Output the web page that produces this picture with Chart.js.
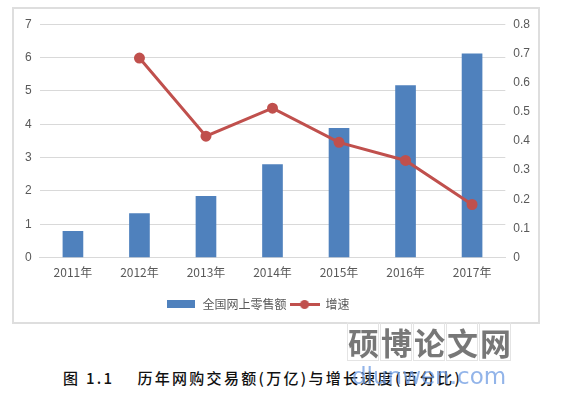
<!DOCTYPE html>
<html>
<head>
<meta charset="utf-8">
<script src="https://cdn.jsdelivr.net/npm/chart.js@4"></script>
<style>
  body { margin: 0; background: #fff; width: 561px; height: 394px; position: relative; overflow: hidden; font-family: "Noto Sans CJK SC", sans-serif; }
  .box { position: absolute; left: 12px; top: 7px; width: 524px; height: 313px; border: 2px solid #dedede; }
  .caption { position: absolute; left: 63px; top: 367px; font-size: 15px; color: #111; letter-spacing: 2.3px; font-weight: 500; white-space: nowrap; }
  .wm { position: absolute; left: 347px; top: 322px; display: flex; }
  .wm span { display: block; width: 30px; height: 37px; border: 1px solid #e4e4e4; margin-right: 1px; font-size: 31px; font-weight: 700; line-height: 37px; text-align: center; color: rgba(95,95,95,0.85); }
  .wm2 { position: absolute; left: 352px; top: 363px; font-size: 23px; color: rgba(110,155,225,0.75); font-family: "DejaVu Sans", sans-serif; }
</style>
</head>
<body>
<div class="box"><canvas id="c"></canvas></div>
<div class="caption">图 1.1　 历年网购交易额(万亿)与增长速度(百分比)</div>
<div class="wm"><span>硕</span><span>博</span><span>论</span><span>文</span><span>网</span></div>
<div class="wm2">dlunwen.com</div>
<script>
const years = ['2011年', '2012年', '2013年', '2014年', '2015年', '2016年', '2017年'];
const sales = [0.79, 1.32, 1.84, 2.79, 3.88, 5.16, 6.11];
const growth = [null, 0.684, 0.416, 0.512, 0.395, 0.333, 0.182];

// legend markers: blue block, red line with a dot, and an empty spacer
const barMark = document.createElement('canvas');
barMark.width = 28; barMark.height = 8;
let g = barMark.getContext('2d');
g.fillStyle = '#4f81bd'; g.fillRect(0, 0, 28, 8);

const lineMark = document.createElement('canvas');
lineMark.width = 30; lineMark.height = 10;
g = lineMark.getContext('2d');
g.fillStyle = '#c0504d';
g.fillRect(0, 4, 30, 3);
g.beginPath(); g.arc(15, 5.5, 4.5, 0, Math.PI * 2); g.fill();

const blankMark = document.createElement('canvas');
blankMark.width = 1; blankMark.height = 1;

const ctx = document.getElementById('c');
const chart = new Chart(ctx, {
    type: 'bar',
    data: {
        labels: years,
        datasets: [
            { label: '全国网上零售额', data: sales, backgroundColor: '#4f81bd', barThickness: 20, yAxisID: 'y', order: 2 },
            { type: 'line', label: '增速', data: growth, borderColor: '#c0504d', backgroundColor: '#c0504d',
              borderWidth: 3, pointRadius: 4, pointHoverRadius: 4, tension: 0, yAxisID: 'y1', order: 1 }
        ]
    },
    options: {
        responsive: true,
        maintainAspectRatio: false,
        animation: false,
        layout: { padding: { left: 3, right: 0, top: 9, bottom: 2 } },
        plugins: {
            legend: {
                position: 'bottom',
                labels: {
                    color: '#595959', font: { size: 12, family: 'Noto Sans CJK SC' },
                    usePointStyle: true, pointStyleWidth: 30, padding: 3,
                    generateLabels: (chart) => {
                        const items = Chart.defaults.plugins.legend.labels.generateLabels(chart);
                        items.sort((a, b) => a.datasetIndex - b.datasetIndex);
                        items.forEach(it => { it.pointStyle = it.datasetIndex === 0 ? barMark : lineMark; });
                        // spacer keeps the legend a little left of centre, as in the original
                        items.push({ text: '', pointStyle: blankMark, fillStyle: 'rgba(0,0,0,0)', strokeStyle: 'rgba(0,0,0,0)', lineWidth: 0, hidden: false, datasetIndex: -1 });
                        return items;
                    }
                },
                onClick: () => {}
            },
            tooltip: { enabled: false }
        },
        scales: {
            x: {
                grid: { display: false },
                border: { color: '#d9d9d9' },
                ticks: { color: '#595959', font: { size: 12, family: 'Noto Sans CJK SC' }, padding: 0 },
                afterFit: (s) => { s.height += 15; }
            },
            y: {
                position: 'left', min: 0, max: 7,
                ticks: { stepSize: 1, color: '#595959', font: { size: 12 }, padding: 8 },
                grid: { color: '#d9d9d9', drawTicks: false },
                border: { display: false }
            },
            y1: {
                position: 'right', min: 0, max: 0.8,
                ticks: { stepSize: 0.1, color: '#595959', font: { size: 12 }, padding: 8 },
                grid: { display: false, drawTicks: false },
                border: { display: false }
            }
        }
    }
});
</script>
</body>
</html>
